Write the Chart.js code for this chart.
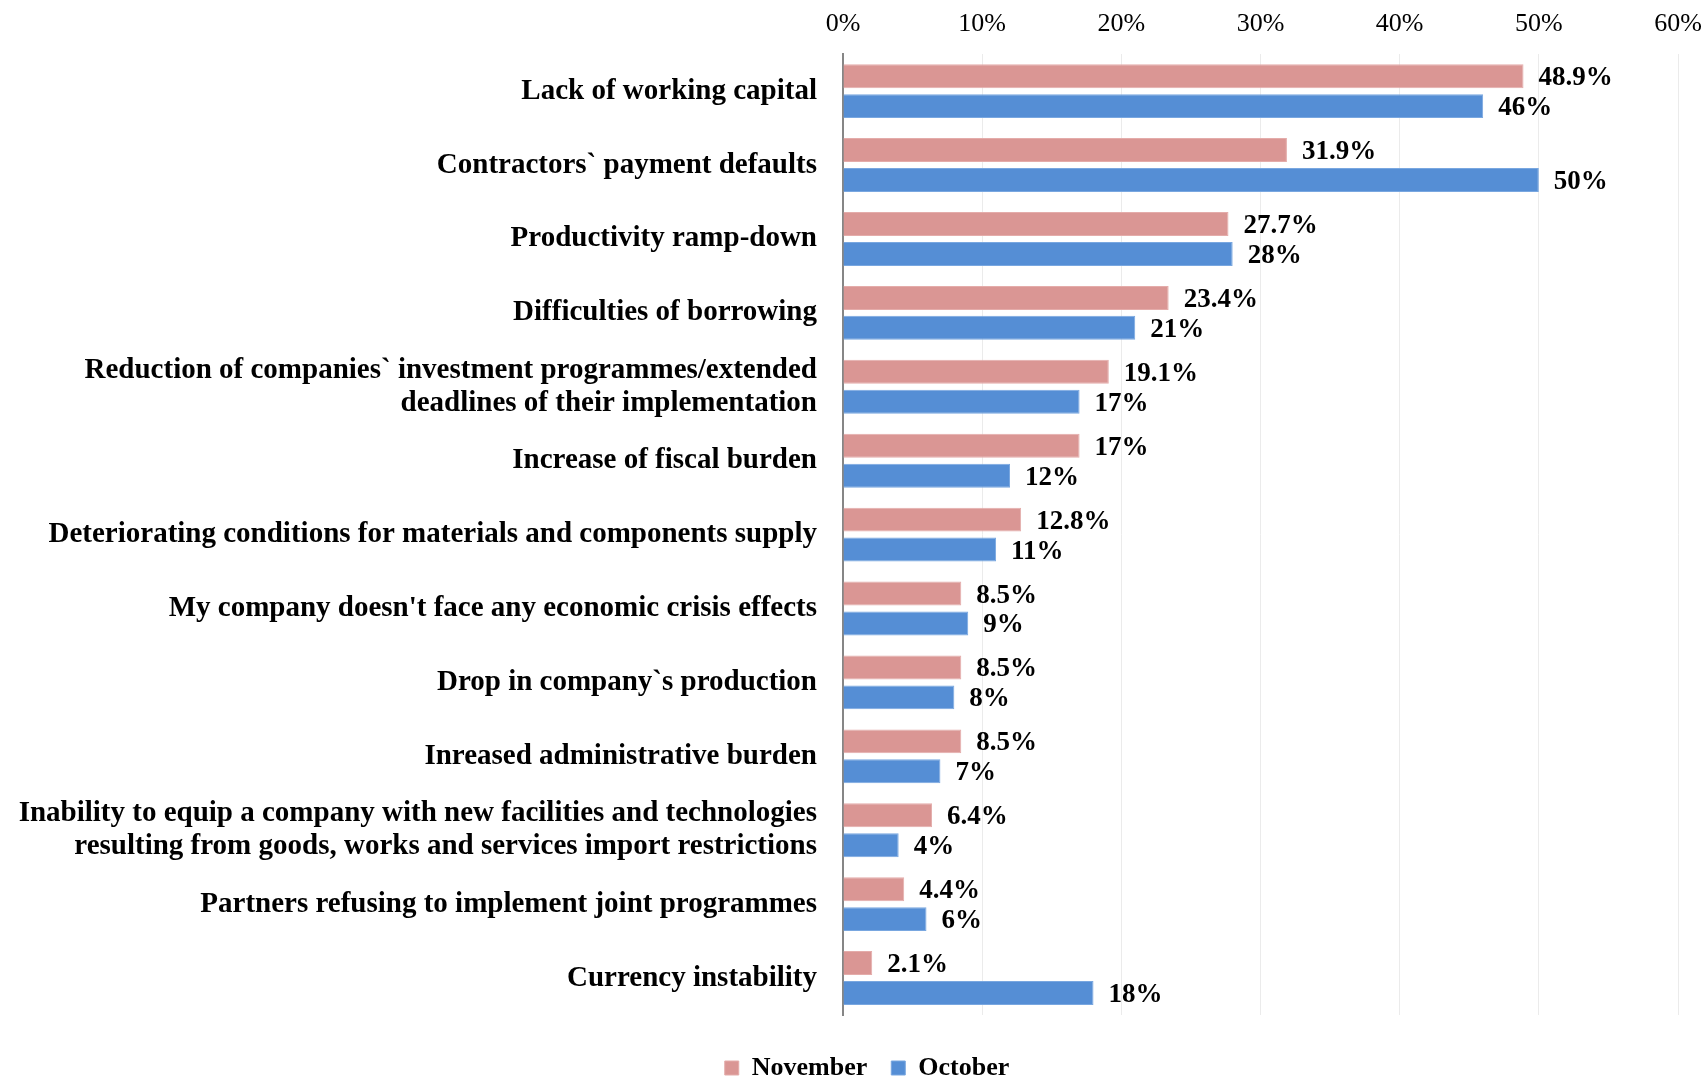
<!DOCTYPE html>
<html>
<head>
<meta charset="utf-8">
<script src="https://cdn.jsdelivr.net/npm/chart.js@4/dist/chart.umd.min.js"></script>
<style>
    html, body { margin: 0; padding: 0; background: #fff; }
    #wrap { width: 1703px; height: 1077px; }
</style>
</head>
<body>
<div id="wrap"><canvas id="problemas"></canvas></div>
<script>
const categorias = [
    "Lack of working capital",
    "Contractors` payment defaults",
    "Productivity ramp-down",
    "Difficulties of borrowing",
    ["Reduction of companies` investment programmes/extended", "deadlines of their implementation"],
    "Increase of fiscal burden",
    "Deteriorating conditions for materials and components supply",
    "My company doesn't face any economic crisis effects",
    "Drop in company`s production",
    "Inreased administrative burden",
    ["Inability to equip a company with new facilities and technologies", "resulting from goods, works and services import restrictions"],
    "Partners refusing to implement joint programmes",
    "Currency instability",
];
const noviembre = [48.9, 31.9, 27.7, 23.4, 19.1, 17, 12.8, 8.5, 8.5, 8.5, 6.4, 4.4, 2.1];
const octubre = [46, 50, 28, 21, 17, 12, 11, 9, 8, 7, 4, 6, 18];
const ticksX = [0, 10, 20, 30, 40, 50, 60];

const fuente = "'Liberation Serif', 'Times New Roman', serif";

// etiquetas de valor al final de cada barra
const etiquetas = {
    id: "etiquetas",
    afterDatasetsDraw(chart) {
        const ctx = chart.ctx;
        ctx.save();
        ctx.font = "bold 27px " + fuente;
        ctx.fillStyle = "#000";
        ctx.textAlign = "left";
        ctx.textBaseline = "middle";
        chart.data.datasets.forEach(function(ds, i) {
            const meta = chart.getDatasetMeta(i);
            meta.data.forEach(function(bar, j) {
                ctx.fillText(ds.data[j] + "%", bar.x + 15, bar.y + 2);
            });
        });
        ctx.restore();
    }
};

// la leyenda del original esta un poco corrida a la derecha
const moverLeyenda = {
    id: "moverLeyenda",
    afterLayout(chart) {
        chart.legend.left += 56;
    }
};

document.addEventListener("DOMContentLoaded", function() {
    const ctx = document.getElementById("problemas").getContext("2d");
    const myChart = new Chart(ctx, {
        type: "bar",
        data: {
            labels: categorias,
            datasets: [{
                    label: "November",
                    data: noviembre,
                    backgroundColor: "#DA9694",
                    borderColor: "#E4ACAA",
                    borderWidth: 1,
                },
                {
                    label: "October",
                    data: octubre,
                    backgroundColor: "#558ED5",
                    borderColor: "#79A7E0",
                    borderWidth: 1,
                },
            ],
        },
        options: {
            indexAxis: "y",
            responsive: true,
            maintainAspectRatio: false,
            animation: false,
            layout: {
                padding: { left: 0, right: 25, top: -5, bottom: -14 },
            },
            categoryPercentage: 0.81,
            barPercentage: 0.8,
            plugins: {
                tooltip: { enabled: false },
                legend: {
                    position: "bottom",
                    labels: {
                        boxWidth: 14,
                        boxHeight: 14,
                        padding: 24,
                        color: "#000",
                        font: { family: fuente, size: 26, weight: "bold" },
                    },
                },
            },
            scales: {
                x: {
                    position: "top",
                    min: 0,
                    max: 60,
                    afterBuildTicks: function(scale) {
                        scale.ticks = ticksX.map(function(v) { return { value: v }; });
                    },
                    afterFit: function(scale) {
                        // el "60%" puede salirse por la derecha como en el original
                        scale.paddingRight = 0;
                    },
                    ticks: {
                        callback: function(v) { return v + "%"; },
                        color: "#000",
                        padding: 14,
                        font: { family: fuente, size: 26 },
                    },
                    grid: {
                        color: "#EBEBEB",
                        lineWidth: 1,
                        drawTicks: false,
                    },
                    border: { display: false },
                },
                // eje vacio para separar la leyenda del grafico
                espacio: {
                    type: "linear",
                    axis: "x",
                    position: "bottom",
                    ticks: { display: false },
                    grid: { display: false, drawTicks: false },
                    border: { display: false },
                    afterFit: function(scale) {
                        scale.height = 16;
                    },
                },
                y: {
                    afterFit: function(scale) {
                        scale.width = 843;
                    },
                    ticks: {
                        color: "#000",
                        padding: 26,
                        font: { family: fuente, size: 29, weight: "bold", lineHeight: 1.12 },
                    },
                    grid: { display: false, drawTicks: false },
                    border: { color: "#868686", width: 2 },
                },
            },
        },
        plugins: [etiquetas, moverLeyenda],
    });
});
</script>
</body>
</html>
